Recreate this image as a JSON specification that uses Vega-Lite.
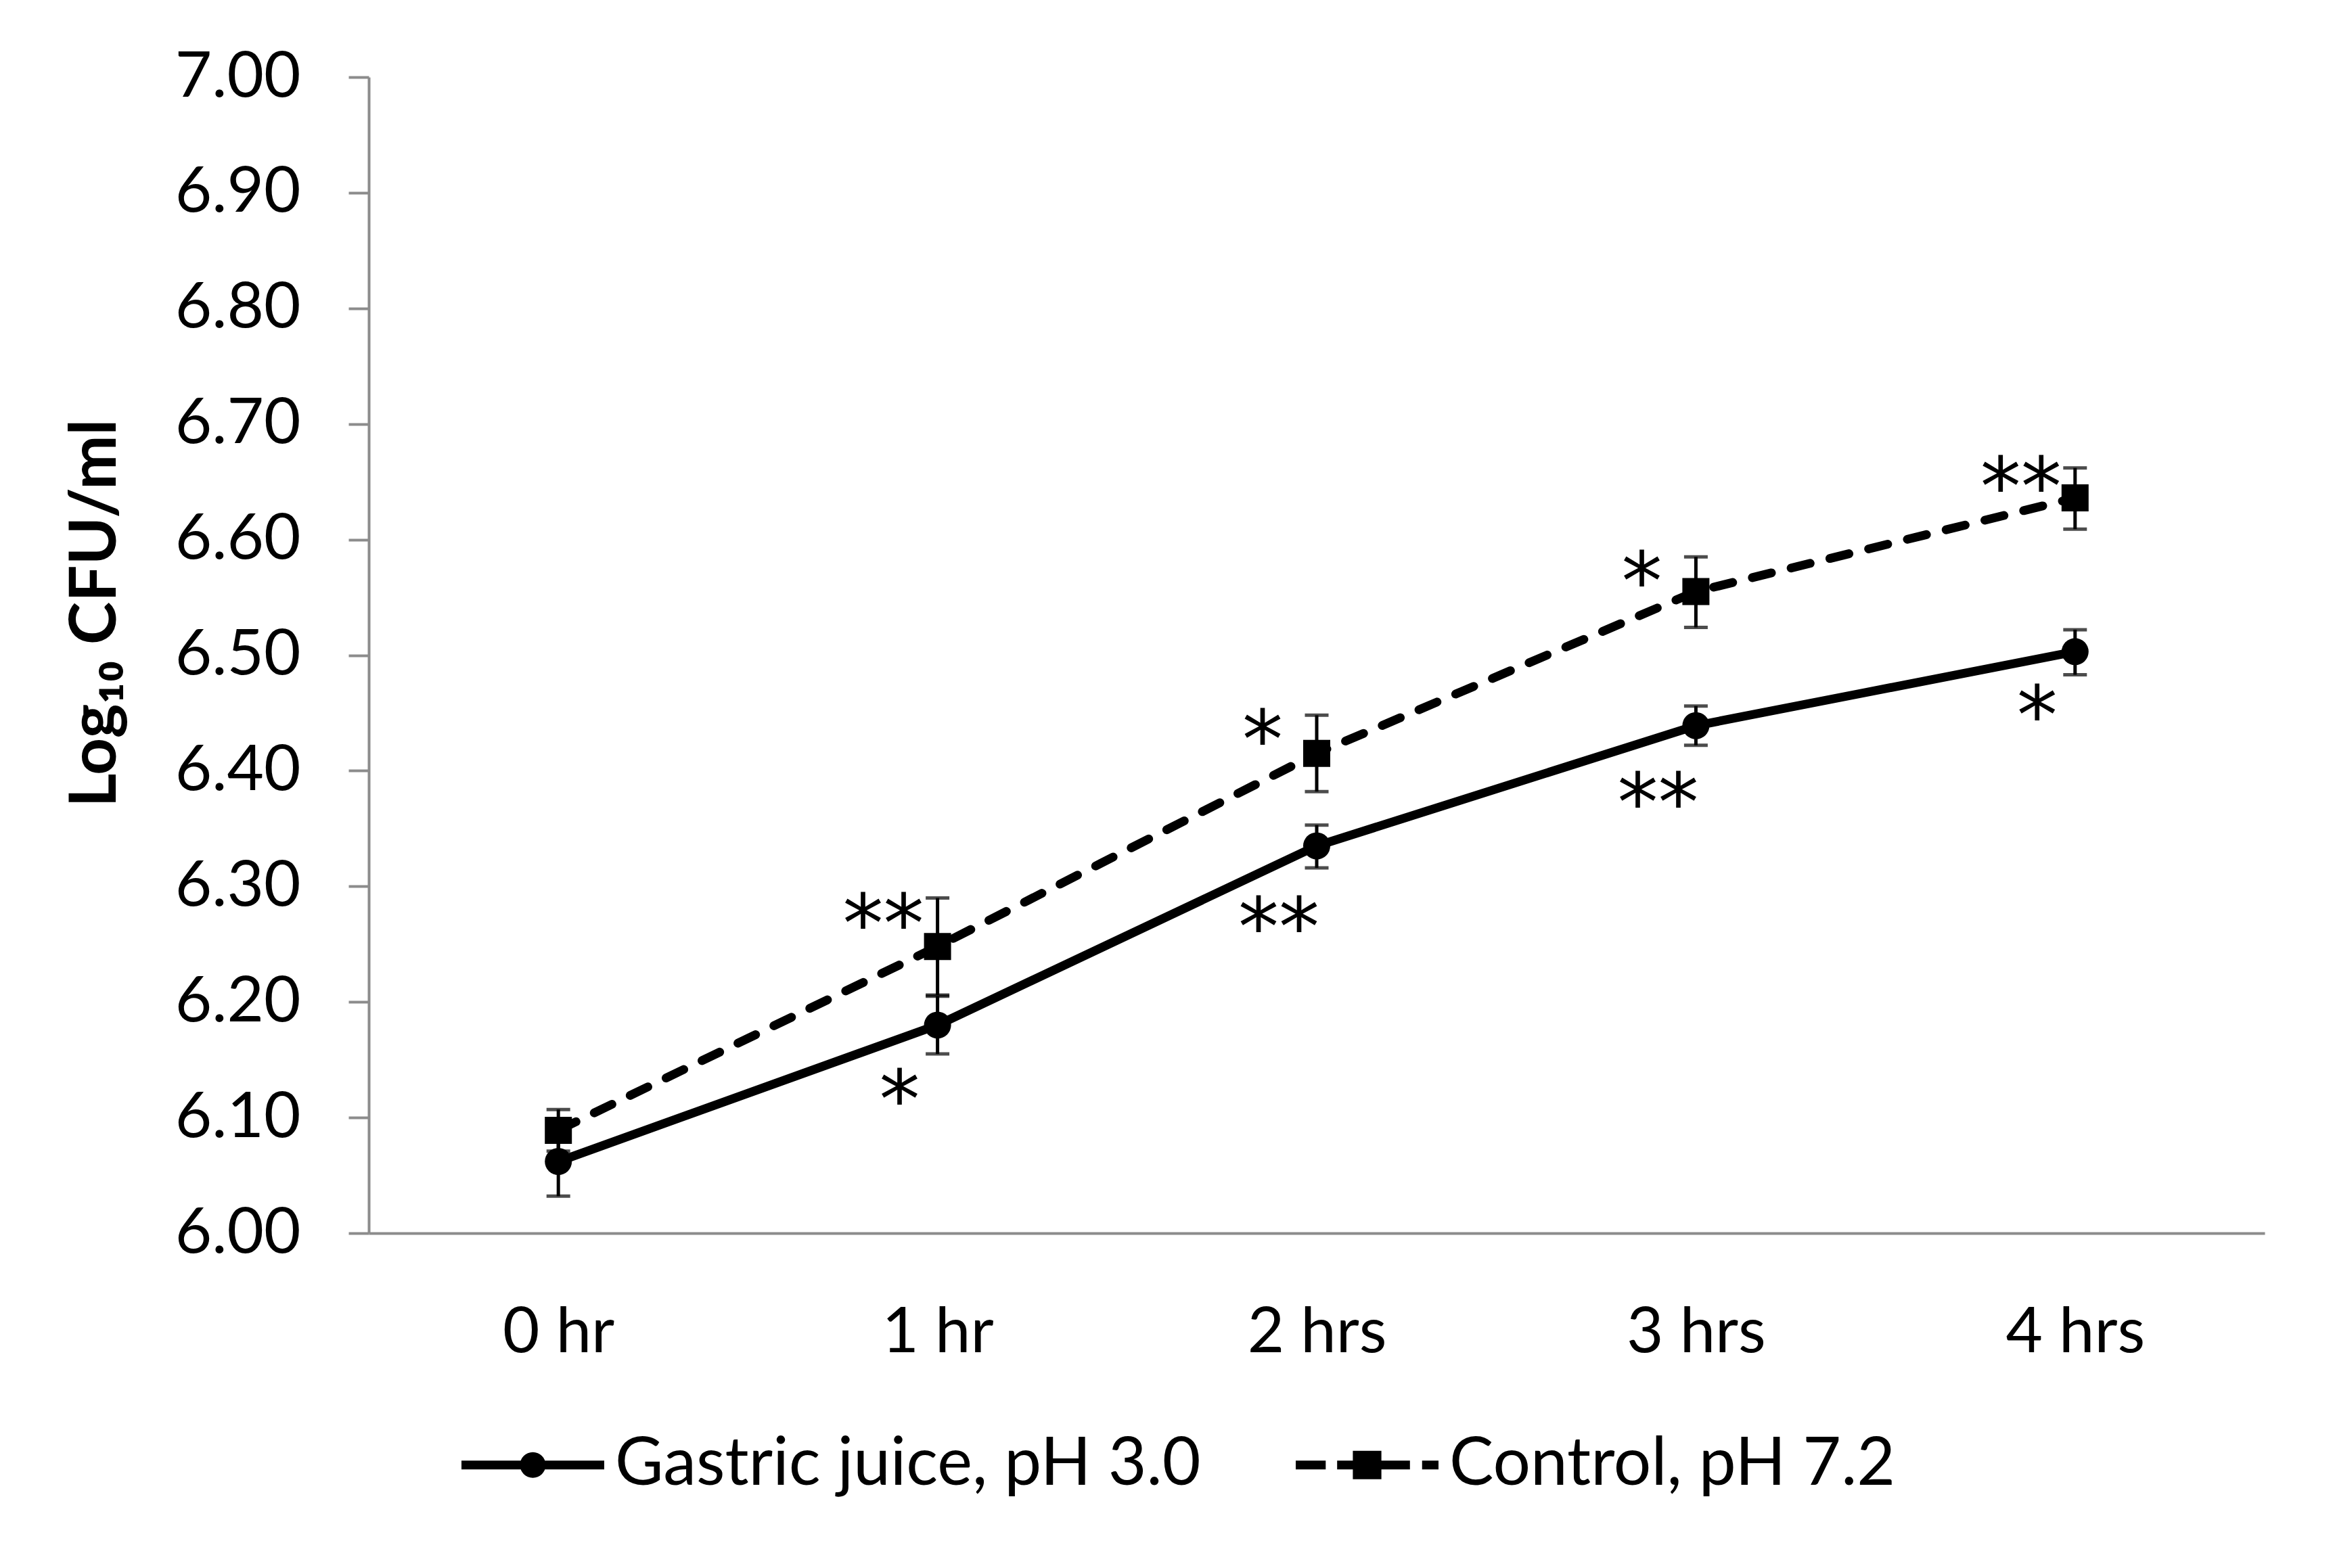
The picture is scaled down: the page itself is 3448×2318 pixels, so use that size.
{
  "$schema": "https://vega.github.io/schema/vega-lite/v6.json",
  "width": 2802,
  "height": 1709,
  "autosize": {"type": "none"},
  "padding": {"left": 545, "top": 114, "right": 101, "bottom": 495},
  "background": "white",
  "config": {
    "font": "Lato",
    "view": {"stroke": null},
    "axis": {"grid": false, "domainColor": "#8c8c8c", "domainWidth": 4, "tickColor": "#8c8c8c", "tickWidth": 4, "labelColor": "#000000", "labelFont": "Lato", "labelFontSize": 94, "labelLimit": 2000, "titleColor": "#000000", "titleLimit": 3000},
    "legend": {"labelLimit": 3000}
  },
  "data": {
    "values": [
      {"time": "0 hr", "series": "Gastric juice, pH 3.0", "mean": 6.062, "lo": 6.032, "hi": 6.092},
      {"time": "1 hr", "series": "Gastric juice, pH 3.0", "mean": 6.180, "lo": 6.155, "hi": 6.205, "sig": "*", "sig_y": 6.130},
      {"time": "2 hrs", "series": "Gastric juice, pH 3.0", "mean": 6.335, "lo": 6.316, "hi": 6.353, "sig": "**", "sig_y": 6.279},
      {"time": "3 hrs", "series": "Gastric juice, pH 3.0", "mean": 6.439, "lo": 6.422, "hi": 6.456, "sig": "**", "sig_y": 6.387},
      {"time": "4 hrs", "series": "Gastric juice, pH 3.0", "mean": 6.503, "lo": 6.483, "hi": 6.522, "sig": "*", "sig_y": 6.462},
      {"time": "0 hr", "series": "Control, pH 7.2", "mean": 6.089, "lo": 6.071, "hi": 6.107},
      {"time": "1 hr", "series": "Control, pH 7.2", "mean": 6.248, "lo": 6.206, "hi": 6.290, "sig": "**", "sig_y": 6.282},
      {"time": "2 hrs", "series": "Control, pH 7.2", "mean": 6.415, "lo": 6.382, "hi": 6.448, "sig": "*", "sig_y": 6.441},
      {"time": "3 hrs", "series": "Control, pH 7.2", "mean": 6.555, "lo": 6.524, "hi": 6.585, "sig": "*", "sig_y": 6.578},
      {"time": "4 hrs", "series": "Control, pH 7.2", "mean": 6.636, "lo": 6.609, "hi": 6.662, "sig": "**", "sig_y": 6.660}
    ]
  },
  "encoding": {
    "x": {
      "field": "time", "type": "nominal",
      "sort": ["0 hr", "1 hr", "2 hrs", "3 hrs", "4 hrs"],
      "scale": {"type": "point", "padding": 0.5},
      "axis": {"title": null, "labelAngle": 0, "ticks": false, "tickSize": 0, "labelPadding": 101}
    }
  },
  "resolve": {"scale": {"shape": "independent"}, "legend": {"shape": "independent"}},
  "layer": [
    {
      "transform": [{"filter": "datum.series === 'Gastric juice, pH 3.0'"}],
      "mark": {"type": "line", "color": "black", "strokeWidth": 13, "strokeCap": "round"},
      "encoding": {
        "y": {
          "field": "mean", "type": "quantitative",
          "scale": {"domain": [6, 7], "zero": false, "nice": false},
          "axis": {
            "values": [6, 6.1, 6.2, 6.3, 6.4, 6.5, 6.6, 6.7, 6.8, 6.9, 7],
            "format": ".2f", "tickSize": 30, "labelPadding": 71,
            "title": "Log₁₀ CFU/ml", "titleFont": "Lato", "titleFontSize": 96, "titleFontWeight": "bold", "titlePadding": 155, "titleY": 792
          }
        }
      }
    },
    {
      "transform": [{"filter": "datum.series === 'Control, pH 7.2'"}],
      "mark": {"type": "line", "color": "black", "strokeWidth": 13, "strokeCap": "round", "strokeDash": [29, 30]},
      "encoding": {
        "y": {"field": "mean", "type": "quantitative"}
      }
    },
    {
      "mark": {"type": "rule", "color": "black", "strokeWidth": 5},
      "encoding": {
        "y": {"field": "lo", "type": "quantitative"},
        "y2": {"field": "hi"}
      }
    },
    {
      "mark": {"type": "tick", "orient": "horizontal", "color": "black", "size": 35, "thickness": 5},
      "encoding": {"y": {"field": "lo", "type": "quantitative"}}
    },
    {
      "mark": {"type": "tick", "orient": "horizontal", "color": "black", "size": 35, "thickness": 5},
      "encoding": {"y": {"field": "hi", "type": "quantitative"}}
    },
    {
      "mark": {"type": "point", "filled": true, "color": "black", "opacity": 1, "size": 1600},
      "encoding": {
        "y": {"field": "mean", "type": "quantitative"},
        "shape": {
          "field": "series", "type": "nominal",
          "scale": {"domain": ["Gastric juice, pH 3.0", "Control, pH 7.2"], "range": ["circle", "square"]},
          "legend": null
        }
      }
    },
    {
      "mark": {"type": "point", "filled": true, "color": "black", "size": 0},
      "encoding": {
        "y": {"field": "mean", "type": "quantitative"},
        "shape": {
          "field": "series", "type": "nominal",
          "scale": {
            "domain": ["Gastric juice, pH 3.0", "Control, pH 7.2"],
            "range": [
              "M-1,-0.062H1V0.062H-1ZM0.18,0A0.18,0.18,0,1,1,-0.18,0A0.18,0.18,0,1,1,0.18,0Z",
              "M-1,-0.062H-0.58V0.062H-1ZM-0.42,-0.062H0.6V0.062H-0.42ZM0.77,-0.062H1V0.062H0.77ZM-0.2,-0.2H0.2V0.2H-0.2Z"
            ]
          },
          "legend": {
            "orient": "none", "legendX": 137, "legendY": 1946, "direction": "horizontal", "title": null,
            "labelFont": "Lato", "labelFontSize": 98, "labelColor": "#000000", "labelOffset": 16,
            "columnPadding": 140, "symbolSize": 44521, "symbolStrokeWidth": 0, "symbolOpacity": 1,
            "symbolFillColor": "black"
          }
        }
      }
    },
    {
      "transform": [{"filter": "isValid(datum.sig) && datum.series === 'Control, pH 7.2'"}],
      "mark": {"type": "text", "font": "DejaVu Sans", "fontSize": 120, "color": "black", "align": "center", "baseline": "middle", "dx": -80, "dy": 30},
      "encoding": {
        "y": {"field": "sig_y", "type": "quantitative"},
        "text": {"field": "sig"}
      }
    },
    {
      "transform": [{"filter": "isValid(datum.sig) && datum.series === 'Gastric juice, pH 3.0'"}],
      "mark": {"type": "text", "font": "DejaVu Sans", "fontSize": 120, "color": "black", "align": "center", "baseline": "middle", "dx": -56, "dy": 30},
      "encoding": {
        "y": {"field": "sig_y", "type": "quantitative"},
        "text": {"field": "sig"}
      }
    }
  ]
}
